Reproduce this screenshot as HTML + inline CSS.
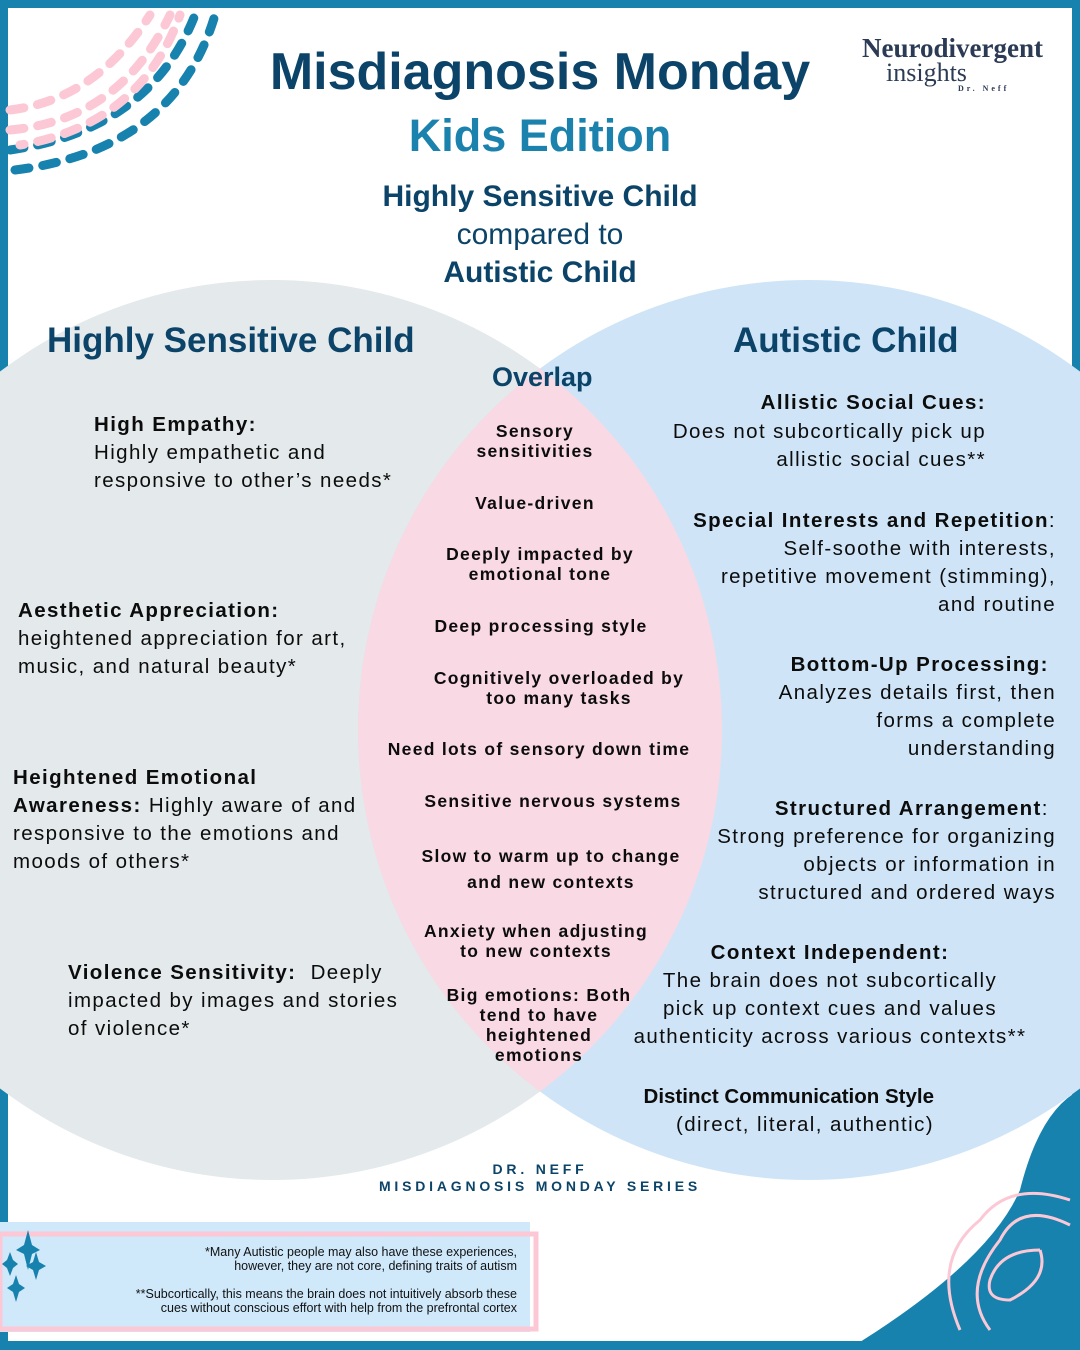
<!DOCTYPE html>
<html><head><meta charset="utf-8"><style>
body{margin:0;width:1080px;height:1350px;overflow:hidden;background:#fff;font-family:"Liberation Sans",sans-serif;}
#root{position:relative;width:1080px;height:1350px;}
.t{position:absolute;color:#0c0c0c;font-size:20.5px;line-height:28px;letter-spacing:1.4px;white-space:nowrap;}
.b{font-weight:bold;}
.c{text-align:center;}
.r{text-align:right;}
.ov{position:absolute;font-weight:bold;font-size:17.5px;line-height:20px;text-align:center;color:#0c0c0c;letter-spacing:1.3px;white-space:nowrap;}
.h{position:absolute;font-weight:bold;color:#0b4468;white-space:nowrap;}
</style></head><body>
<div id="root">
<svg width="1080" height="1350" style="position:absolute;left:0;top:0">
  <defs>
    <clipPath id="cl"><circle cx="272" cy="730" r="450"/></clipPath>
  </defs>
  <rect x="0" y="0" width="1080" height="1350" fill="#1682ad"/>
  <rect x="8" y="8" width="1064" height="1333" fill="#fff"/>
  <circle cx="272" cy="730" r="450" fill="#e4e9ec"/>
  <circle cx="808" cy="730" r="450" fill="#cfe5f7"/>
  <circle cx="808" cy="730" r="450" fill="#f9d9e3" clip-path="url(#cl)"/>
  <g fill="none" stroke-linecap="round" stroke-width="9" stroke-dasharray="14 14">
    <path d="M10 130 Q120 120 170 15" stroke="#fcc8d6"/>
    <path d="M10 150 Q150 130 195 15" stroke="#1682ad"/>
    <path d="M15 170 Q175 150 215 15" stroke="#1682ad"/>
    <path d="M10 110 Q95 100 150 15" stroke="#fcc8d6"/>
    <path d="M20 145 Q140 125 180 15" stroke="#fcc8d6" stroke-dashoffset="10"/>
  </g>
  <path d="M1080 1090 Q1040 1110 1020 1190 Q990 1260 860 1342 L1080 1342 Z" fill="#1682ad"/>
  <g fill="none" stroke="#fcc8d6" stroke-width="3">
    <path d="M1070 1200 Q1010 1180 980 1220 Q930 1260 960 1330"/>
    <path d="M1070 1225 Q1020 1200 1000 1240 Q960 1290 990 1330"/>
    <path d="M1040 1250 Q1000 1250 990 1280 Q985 1300 1010 1300 Q1050 1280 1040 1250"/>
  </g>
  <rect x="0" y="1222" width="530" height="110" fill="#cfe9fb"/>
  <rect x="0" y="1234" width="536" height="95" fill="none" stroke="#fcc8d6" stroke-width="5"/>
  <g fill="#1682ad">
    <path d="M28 1230 L32 1245 L40 1250 L32 1254 L28 1270 L24 1254 L16 1250 L24 1245Z"/>
    <path d="M36 1252 L39 1262 L46 1266 L39 1270 L36 1280 L33 1270 L26 1266 L33 1262Z"/>
    <path d="M10 1252 L13 1260 L18 1264 L13 1268 L10 1276 L7 1268 L2 1264 L7 1260Z"/>
    <path d="M16 1275 L19 1284 L25 1288 L19 1292 L16 1302 L13 1292 L7 1288 L13 1284Z"/>
  </g>
</svg>

<div class="h" style="left:240px;top:40px;width:600px;text-align:center;font-size:52px;line-height:64px;">Misdiagnosis Monday</div>
<div class="h" style="left:240px;top:110px;width:600px;text-align:center;font-size:45px;line-height:52px;color:#1a82ad;">Kids Edition</div>
<div style="position:absolute;left:862px;top:34px;font-family:'Liberation Serif',serif;color:#2b3a55;">
  <div style="font-size:27px;font-weight:bold;line-height:28px;">Neurodivergent</div>
  <div style="font-size:26px;line-height:22px;padding-left:24px;">insights</div>
  <div style="font-size:8px;letter-spacing:3px;padding-left:96px;font-weight:bold;">Dr. Neff</div>
</div>
<div class="h c" style="left:300px;top:178px;width:480px;font-size:30px;line-height:38px;">Highly Sensitive Child<br><span style="font-weight:normal">compared to</span><br>Autistic Child</div>

<div class="h" style="left:47px;top:319px;font-size:35px;line-height:44px;">Highly Sensitive Child</div>
<div class="h" style="left:733px;top:319px;font-size:35px;line-height:44px;">Autistic Child</div>
<div class="h" style="left:492px;top:360px;font-size:27px;line-height:34px;">Overlap</div>

<div class="t" style="left:94px;top:411px;"><span class="b">High Empathy:</span><br>Highly empathetic and<br>responsive to other’s needs*</div>
<div class="t" style="left:18px;top:597px;"><span class="b">Aesthetic Appreciation:</span><br>heightened appreciation for art,<br>music, and natural beauty*</div>
<div class="t" style="left:13px;top:764px;"><span class="b">Heightened Emotional<br>Awareness:</span> Highly aware of and<br>responsive to the emotions and<br>moods of others*</div>
<div class="t" style="left:68px;top:959px;"><span class="b">Violence Sensitivity:</span>&nbsp; Deeply<br>impacted by images and stories<br>of violence*</div>

<div class="ov" style="left:440px;top:421px;width:190px;">Sensory<br>sensitivities</div>
<div class="ov" style="left:400px;top:493px;width:270px;">Value-driven</div>
<div class="ov" style="left:400px;top:544px;width:280px;">Deeply impacted by<br>emotional tone</div>
<div class="ov" style="left:400px;top:616px;width:282px;">Deep processing style</div>
<div class="ov" style="left:410px;top:668px;width:298px;">Cognitively overloaded by<br>too many tasks</div>
<div class="ov" style="left:370px;top:739px;width:338px;">Need lots of sensory down time</div>
<div class="ov" style="left:400px;top:791px;width:306px;">Sensitive nervous systems</div>
<div class="ov" style="left:400px;top:843px;width:302px;line-height:26px;">Slow to warm up to change<br>and new contexts</div>
<div class="ov" style="left:400px;top:921px;width:272px;">Anxiety when adjusting<br>to new contexts</div>
<div class="ov" style="left:430px;top:985px;width:218px;">Big emotions: Both<br>tend to have<br>heightened<br>emotions</div>

<div class="t r" style="right:94px;top:389px;"><span class="b">Allistic Social Cues:</span></div>
<div class="t r" style="right:94px;top:418px;">Does not subcortically pick up<br>allistic social cues**</div>
<div class="t r" style="right:24px;top:507px;"><span class="b">Special Interests and Repetition</span>:<br>Self-soothe with interests,<br>repetitive movement (stimming),<br>and routine</div>
<div class="t r" style="right:24px;top:651px;"><span class="b">Bottom-Up Processing:</span>&nbsp;<br>Analyzes details first, then<br>forms a complete<br>understanding</div>
<div class="t r" style="right:24px;top:795px;"><span class="b">Structured Arrangement</span>:&nbsp;<br>Strong preference for organizing<br>objects or information in<br>structured and ordered ways</div>
<div class="t c" style="left:610px;top:939px;width:440px;"><span class="b">Context Independent:</span><br>The brain does not subcortically<br>pick up context cues and values<br>authenticity across various contexts**</div>
<div class="t r" style="right:146px;top:1083px;"><span class="b" style="letter-spacing:0">Distinct Communication Style</span><br>(direct, literal, authentic)</div>

<div class="h c" style="left:290px;top:1161px;width:500px;font-size:14px;line-height:17px;letter-spacing:3.8px;">DR. NEFF<br>MISDIAGNOSIS MONDAY SERIES</div>

<div class="r" style="position:absolute;right:563px;top:1245px;font-size:12.5px;line-height:14px;color:#111;">*Many Autistic people may also have these experiences,<br>however, they are not core, defining traits of autism</div>
<div class="r" style="position:absolute;right:563px;top:1287px;font-size:12.5px;line-height:14px;color:#111;">**Subcortically, this means the brain does not intuitively absorb these<br>cues without conscious effort with help from the prefrontal cortex</div>
</div>
</body></html>
